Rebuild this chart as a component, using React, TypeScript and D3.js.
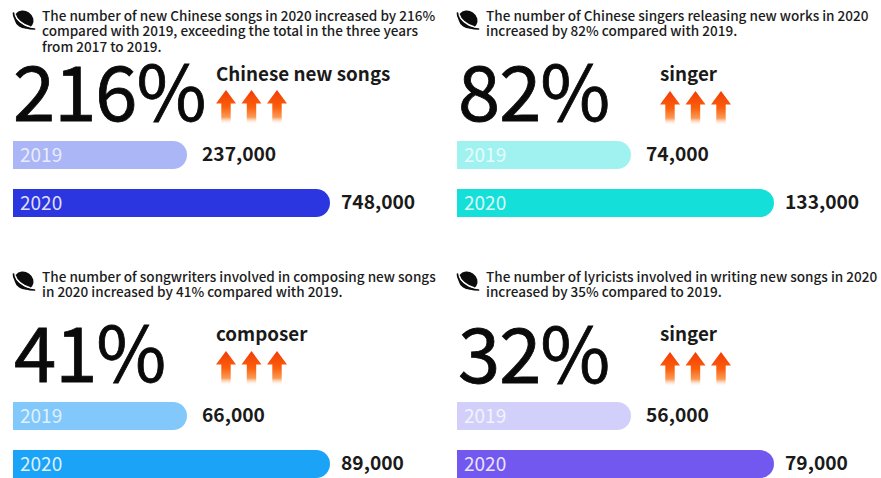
import React from "react";
import * as d3 from "d3";

const WIDTH = 881;
const HEIGHT = 478;
const FONT = "'Noto Sans CJK SC', 'Noto Sans', sans-serif";

// One entry per panel, read in the order: top left, top right, bottom left, bottom right.
const headlines = [
  ["The number of new Chinese songs in 2020 increased by 216%", "compared with 2019, exceeding the total in the three years", "from 2017 to 2019."],
  ["The number of Chinese singers releasing new works in 2020", "increased by 82% compared with 2019."],
  ["The number of songwriters involved in composing new songs", "in 2020 increased by 41% compared with 2019."],
  ["The number of lyricists involved in writing new songs in 2020", "increased by 35% compared to 2019."],
];
const percents = ["216%", "82%", "41%", "32%"];
const subjects = ["Chinese new songs", "singer", "composer", "singer"];
const years = ["2019", "2020"];
const values2019 = [237000, 74000, 66000, 56000];
const values2020 = [748000, 133000, 89000, 79000];
const colors2019 = ["#aab6f5", "#a0f2f0", "#82c8fb", "#d2d0fa"];
const colors2020 = ["#2b35e0", "#14dfd8", "#1ba3f7", "#7358f0"];
const arrowSlots = [0, 1, 2];

// Panel geometry: origin of each panel, and the row layout inside it.
const panelX = d3.scaleOrdinal<number, number>().domain([0, 1, 2, 3]).range([13, 457, 13, 457]);
const panelY = d3.scaleOrdinal<number, number>().domain([0, 1, 2, 3]).range([0, 0, 261, 261]);
const rowY = d3.scaleBand<string>().domain(years).range([141, 217]).paddingInner(20 / 48);
const arrowX = d3.scaleLinear().domain([0, 2]).range([213, 264]);

// Bars are sized panel by panel, each panel spanning its own two values.
const barWidth = (i: number) =>
  d3.scaleLinear().domain([values2019[i], values2020[i]]).range([174, 317]);

const barPath = (w: number, h: number) => {
  const r = h / 2;
  return `M0,0H${w - r}A${r},${r} 0 0 1 ${w - r},${h}H0Z`;
};

const PlanetIcon = ({ x, y }: { x: number; y: number }) => (
  <g transform={`translate(${x},${y})`}>
    <ellipse cx={0} cy={0} rx={10} ry={8.6} transform="rotate(35)" fill="#0c0c0c" />
    <path d="M-9,-5C-8,-0.5 -2,5.5 6.5,7.5" fill="none" stroke="#fff" strokeWidth={1.7} />
    <path d="M-10.5,-6.5C-10.5,-0.5 -3,9.5 10.5,9.5" fill="none" stroke="#0c0c0c" strokeWidth={1.7} strokeLinecap="round" />
  </g>
);

const Arrow = ({ x, y }: { x: number; y: number }) => (
  <path
    transform={`translate(${x},${y})`}
    d="M0,0L10,13.5H4.7V34H-4.7V13.5H-10Z"
    fill="url(#arrowFade)"
  />
);

const Panel = ({ i }: { i: number }) => {
  const width = barWidth(i);
  const values = [values2019[i], values2020[i]];
  const colors = [colors2019[i], colors2020[i]];
  const bigBaseline = [121, 121, 121, 122][i];
  const subjectBaseline = [81, 81, 80, 80][i];
  const arrowTop = [90, 91, 90, 91][i];
  return (
    <g transform={`translate(${panelX(i)},${panelY(i)})`}>
      <PlanetIcon x={11} y={19.5} />
      <text x={29} y={0} fontSize={13.55} fontWeight={500} fill="#1c1c1c">
        {headlines[i].map((line, k) => (
          <tspan key={k} x={29} y={20.5 + k * 15.8}>{line}</tspan>
        ))}
      </text>
      <text x={i === 0 ? 0 : 1} y={bigBaseline} fontSize={76} fill="#0a0a0a" stroke="#0a0a0a" strokeWidth={0.8} letterSpacing={-1}>
        {percents[i]}
      </text>
      <text x={203} y={subjectBaseline} fontSize={18.8} fontWeight={700} fill="#1a1a1a">
        {subjects[i]}
      </text>
      {arrowSlots.map((s) => (
        <Arrow key={s} x={arrowX(s)} y={arrowTop} />
      ))}
      {years.map((year, k) => {
        const y = rowY(year)!;
        const h = rowY.bandwidth();
        const w = width(values[k]);
        return (
          <g key={year} transform={`translate(0,${y})`}>
            <path d={barPath(w, h)} fill={colors[k]} />
            <text x={7} y={h / 2 + 7} fontSize={19} fill="#fff" fillOpacity={k === 0 ? 0.75 : 0.85}>
              {year}
            </text>
            <text x={w + 15 - k * 4} y={h / 2 + 6} fontSize={19.2} fontWeight={700} fill="#1a1a1a">
              {d3.format(",")(values[k])}
            </text>
          </g>
        );
      })}
    </g>
  );
};

export default function App() {
  return (
    <svg
      width={WIDTH}
      height={HEIGHT}
      viewBox={`0 0 ${WIDTH} ${HEIGHT}`}
      style={{ position: "absolute", left: 0, top: 0, fontFamily: FONT, background: "#fff" }}
    >
      <defs>
        <linearGradient id="arrowFade" x1="0" y1="0" x2="0" y2="1">
          <stop offset="0%" stopColor="#f23c06" />
          <stop offset="50%" stopColor="#fb5f0c" />
          <stop offset="80%" stopColor="#fb9a55" />
          <stop offset="100%" stopColor="#fff" stopOpacity={0.2} />
        </linearGradient>
      </defs>
      {d3.range(4).map((i) => (
        <Panel key={i} i={i} />
      ))}
    </svg>
  );
}
